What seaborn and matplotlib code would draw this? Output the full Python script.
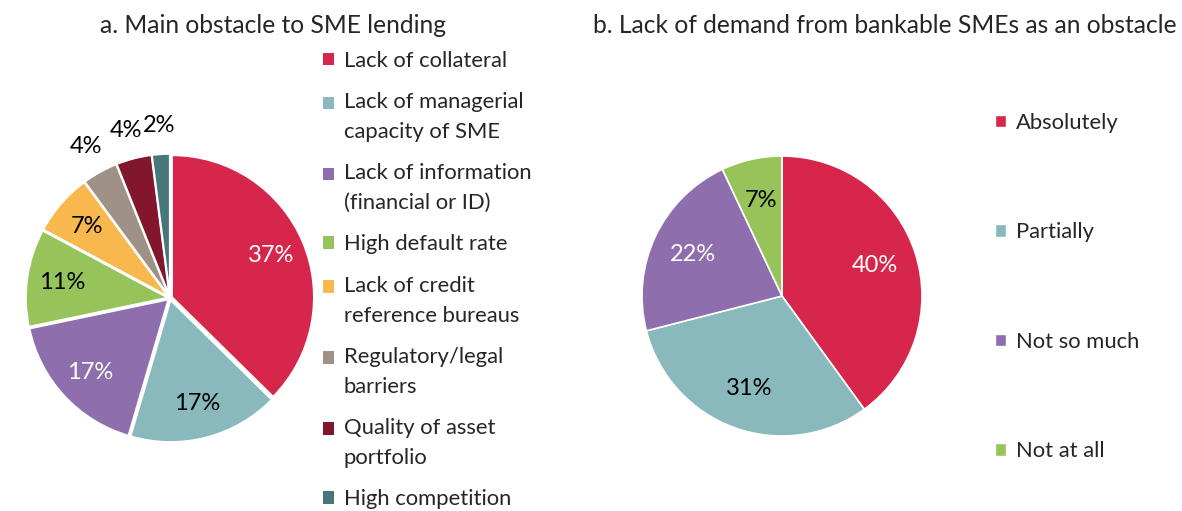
import matplotlib
matplotlib.use("Agg")
import matplotlib.pyplot as plt
from matplotlib.patches import Rectangle, Patch
from matplotlib.legend_handler import HandlerPatch
import seaborn as sns
import numpy as np

sns.set_theme(style="white")
plt.rcParams['font.family'] = ['Lato', 'DejaVu Sans']

# Panel a data
obstacles = ["Lack of collateral", "Lack of managerial\ncapacity of SME",
             "Lack of information\n(financial or ID)", "High default rate",
             "Lack of credit\nreference bureaus", "Regulatory/legal\nbarriers",
             "Quality of asset\nportfolio", "High competition"]
obstacle_share = [37, 17, 17, 11, 7, 4, 4, 2]
obstacle_colors = ["#D7264B", "#89B9BC", "#8F6EAD", "#96C45A",
                   "#F8B84E", "#A09186", "#82162D", "#45777B"]

# Panel b data
demand = ["Absolutely", "Partially", "Not so much", "Not at all"]
demand_share = [40, 31, 22, 7]
demand_colors = ["#D7264B", "#89B9BC", "#8F6EAD", "#96C45A"]

W, H = 1182, 511
TITLE_FS = 17.7
LEG_FS = 15.8
LAB_FS = 17
LINE_PT = 29 * 72 / 100  # distance between wrapped legend lines, in points
fig = plt.figure(figsize=(W / 100, H / 100), dpi=100)


class FirstLineSquare(HandlerPatch):
    # legend square next to the first line of a wrapped label
    def __init__(self, nlines):
        super().__init__()
        self.shift = (nlines - 1) * LINE_PT / 2

    def create_artists(self, legend, orig_handle, xdescent, ydescent, width, height,
                       fontsize, trans):
        p = Rectangle((-xdescent, -ydescent + self.shift), width, height,
                      facecolor=orig_handle.get_facecolor(), edgecolor="none", transform=trans)
        return [p]


def pie_axes(cx, cy, r, pad=1.04):
    side = 2 * r * pad
    return fig.add_axes([(cx - side / 2) / W, (H - cy - side / 2) / H, side / W, side / H])


def label_wedges(ax, wedges, values, white_idx, inner_r, outer_r=None, small=5):
    for i, (w, v) in enumerate(zip(wedges, values)):
        ang = np.deg2rad((w.theta1 + w.theta2) / 2)
        r = inner_r if (outer_r is None or v >= small) else outer_r
        col = "white" if i in white_idx else "black"
        ax.text(r * np.cos(ang), r * np.sin(ang), f"{v}%", ha="center", va="center",
                fontsize=LAB_FS, color=col)


# ---- panel a ----
ax1 = pie_axes(170, 298, 142, pad=1.3)
wedges1, _ = ax1.pie(obstacle_share, colors=obstacle_colors, startangle=90, counterclock=False,
                     explode=[0.015] * len(obstacle_share),
                     wedgeprops=dict(edgecolor="white", linewidth=1.4))
ax1.set_xlim(-1.3, 1.3)
ax1.set_ylim(-1.3, 1.3)
label_wedges(ax1, wedges1, obstacle_share, {0, 2}, 0.77, outer_r=1.22)
fig.text(273 / W, 1 - 33 / H, "a. Main obstacle to SME lending", ha="center", va="baseline",
         fontsize=TITLE_FS)
handles1 = [Patch(facecolor=c) for c in obstacle_colors]
hmap = {h: FirstLineSquare(lab.count("\n") + 1) for h, lab in zip(handles1, obstacles)}
leg1 = fig.legend(handles1, obstacles, handler_map=hmap, loc="upper left",
                  bbox_to_anchor=(314 / W, 1 - 42 / H),
                  frameon=False, fontsize=LEG_FS, handlelength=0.5, handleheight=0.5,
                  handletextpad=0.45, labelspacing=0.98, borderaxespad=0)
for t in leg1.get_texts():
    t.set_linespacing(1.6)

# ---- panel b ----
ax2 = pie_axes(782, 296, 140)
wedges2, _ = ax2.pie(demand_share, colors=demand_colors, startangle=90, counterclock=False,
                     wedgeprops=dict(edgecolor="white", linewidth=1.2))
ax2.set_xlim(-1.04, 1.04)
ax2.set_ylim(-1.04, 1.04)
label_wedges(ax2, wedges2, demand_share, {0, 2}, 0.7)
fig.text(885 / W, 1 - 33 / H, "b. Lack of demand from bankable SMEs as an obstacle",
         ha="center", va="baseline", fontsize=TITLE_FS)
handles2 = [Patch(facecolor=c) for c in demand_colors]
fig.legend(handles2, demand, loc="upper left", bbox_to_anchor=(986 / W, 1 - 104 / H),
           frameon=False, fontsize=LEG_FS, handlelength=0.5, handleheight=0.5,
           handletextpad=0.45, labelspacing=4.08, borderaxespad=0)

fig.savefig("out.png", dpi=100)
